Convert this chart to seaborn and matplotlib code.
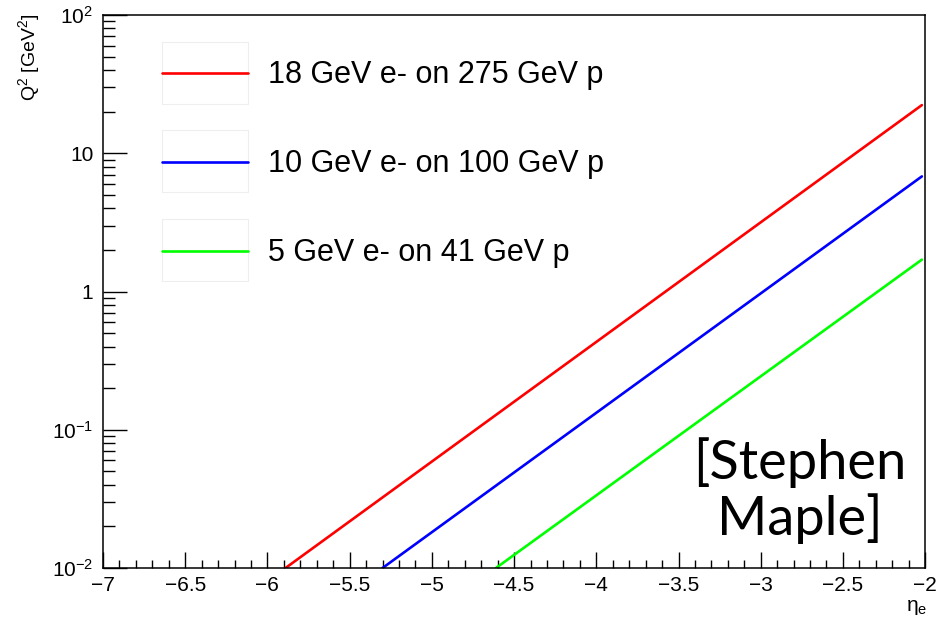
import matplotlib
matplotlib.use("Agg")
import matplotlib.pyplot as plt
from matplotlib.patches import Rectangle
from matplotlib.ticker import FixedLocator, MultipleLocator, LogLocator, FuncFormatter, NullFormatter
import seaborn as sns
import pandas as pd

# Kinematic limit lines: Q^2 reach versus electron pseudorapidity for each beam setting
beams = ["18 GeV e- on 275 GeV p", "10 GeV e- on 100 GeV p", "5 GeV e- on 41 GeV p"]
colors = ["#ff0000", "#0000ff", "#00ff00"]
eta_start = [-5.89, -5.30, -4.61]
eta_end = [-2.02, -2.02, -2.02]
q2_start = [0.01, 0.01, 0.01]
q2_end = [22.3, 6.8, 1.70]

x_ticks = [-7, -6.5, -6, -5.5, -5, -4.5, -4, -3.5, -3, -2.5, -2]
y_ticks = [1e-2, 1e-1, 1, 10, 1e2]
y_tick_labels = ["$10^{-2}$", "$10^{-1}$", "1", "10", "$10^{2}$"]

rows = []
for b, xs, xe, ys, ye in zip(beams, eta_start, eta_end, q2_start, q2_end):
    rows.append({"eta": xs, "Q2": ys, "beam": b})
    rows.append({"eta": xe, "Q2": ye, "beam": b})
df = pd.DataFrame(rows)

sns.set_style("white")
plt.rcParams["font.family"] = ["Liberation Sans", "DejaVu Sans"]
plt.rcParams["mathtext.fontset"] = "custom"
plt.rcParams["mathtext.rm"] = "Liberation Sans"
plt.rcParams["mathtext.it"] = "Liberation Sans:italic"
plt.rcParams["mathtext.default"] = "regular"
plt.rcParams["text.color"] = "black"
plt.rcParams["xtick.color"] = "black"
plt.rcParams["ytick.color"] = "black"

fig = plt.figure(figsize=(9.45, 6.17), dpi=100)
ax = fig.add_axes([0.109, 0.0794, 0.870, 0.8963])

sns.lineplot(data=df, x="eta", y="Q2", hue="beam", hue_order=beams,
             palette=colors, linewidth=1.9, ax=ax, legend=False, sort=False)

ax.set_yscale("log")
ax.set_xlim(-7, -2)
ax.set_ylim(1e-2, 1e2)

ax.xaxis.set_major_locator(FixedLocator(x_ticks))
ax.xaxis.set_minor_locator(MultipleLocator(0.1))
ax.xaxis.set_major_formatter(FuncFormatter(lambda v, p: f"{v:g}".replace("-", "\u2212")))
ax.yaxis.set_major_locator(FixedLocator(y_ticks))
ax.yaxis.set_major_formatter(FuncFormatter(
    lambda v, p: y_tick_labels[y_ticks.index(min(y_ticks, key=lambda t: abs(t - v)))]))
ax.yaxis.set_minor_locator(LogLocator(base=10, subs=range(2, 10), numticks=20))
ax.yaxis.set_minor_formatter(NullFormatter())

ax.tick_params(axis="both", which="both", direction="in", top=False, right=False,
               bottom=True, left=True, color="black", labelcolor="black",
               width=1.0, labelsize=15)
ax.tick_params(axis="x", which="major", length=11.5, pad=6)
ax.tick_params(axis="x", which="minor", length=5.8)
ax.tick_params(axis="y", which="major", length=17, pad=7)
ax.tick_params(axis="y", which="minor", length=8.6)
for s in ax.spines.values():
    s.set_color("black")
    s.set_linewidth(1.1)

ax.set_xlabel("")
ax.set_ylabel("")
fig.text(0.031, 0.979, "$Q^{2}$ [$GeV^{2}$]", rotation=90, ha="center", va="top", fontsize=14)
fig.text(0.970, 0.0, "$\\eta_{e}$", ha="center", va="bottom", fontsize=15)

# Legend with a faint frame around each line sample
handles = [plt.Line2D([], [], color=c, lw=1.9) for c in colors]
ax.legend(handles, beams, loc="upper left", bbox_to_anchor=(0.0718, 0.918),
          frameon=False, fontsize=22, handlelength=2.82, handletextpad=0.65,
          labelspacing=1.93, borderpad=0, borderaxespad=0, labelcolor="black")
for yb in [0.839, 0.680, 0.519]:
    ax.add_patch(Rectangle((0.0718, yb), 0.1046, 0.112, transform=ax.transAxes,
                           fill=False, edgecolor="#eeeeee", linewidth=0.8, zorder=1))

ax.text(0.847, 0.14, "[Stephen\nMaple]", transform=ax.transAxes, ha="center",
        va="center", multialignment="center", fontsize=39, family="Lato",
        linespacing=1.12, color="black")

fig.savefig("out.png", dpi=100)
